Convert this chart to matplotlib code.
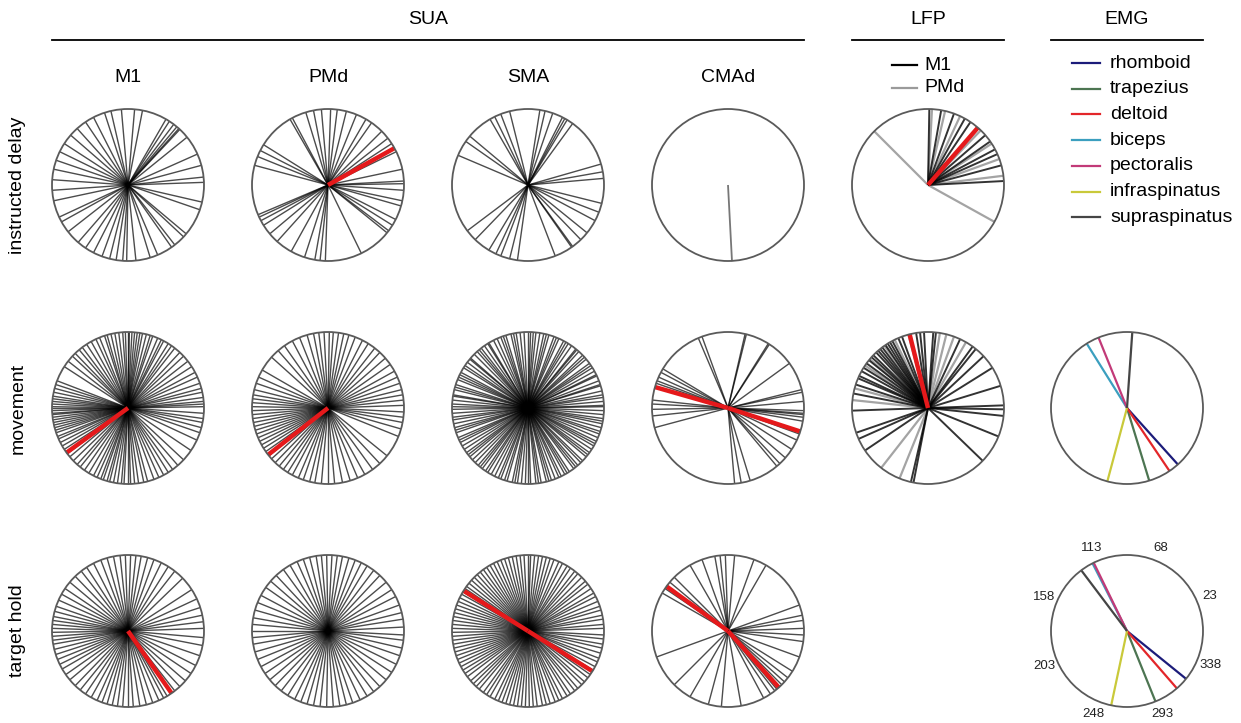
import numpy as np
import matplotlib.pyplot as plt
from matplotlib.lines import Line2D

plt.rcParams['font.family'] = ['Liberation Sans', 'DejaVu Sans']

# preferred directions (deg), one list per area / epoch
m1_delay = [117, 108, 103, 95, 85, 79, 60, 57, 53, 50, 48, 47, 39, 24, 15, 6, 2, -13, -19, -40,
            -43, -52, -55, -67, -73, -84, 269, 266, 261, 256, 250, 243, 236, 229, 218, 209, 205,
            192, 184, 176, 168, 161, 154, 147, 139, 132, 124]
pmd_delay = [120, 118, 107, 101, 95, 88, 83, 76, 68, 60, 55, 45, 38, 33, 26, 12, 3, 1, -4, -12,
             -16, -27, -32, -37, -39, -64, 268, 264, 260, 252, 241, 228, 220, 212, 208, 205, 203,
             165, 158, 153, 148]
sma_delay = [120, 116, 111, 104, 81, 77, 71, 63, 61, 59, 54, 140, 145, 157, 16, 10, 5, -14, -21,
             -28, -39, -46, -54, -55, -69, 262, 256, 249, 245, 239, 226, 217]
cmad_delay = [273]

m1_move = [62, 64, 67, 71, 73, 76, 79, 81, 83, 85, 87, 89, 90, 92, 94, 97, 100, 103, 106, 108,
           112, 115, 119, 123, 127, 130, 134, 137, 142, 147, 159, 162, 165, 168, 171, 173, 175,
           177, 179, 180, 182, 184, 185, 187, 189, 191, 193, 195, 197, 199, 202, 204, 207, 210,
           213, 217, 220, 224, 228, 231, 235, 239, 243, 246, 249, 251, 254, 256, 259, 262, 265,
           267, 270, 272, 275, 278, 282, 285, 290, 294, 298, 302, 306, 311, 317, 326, 335, 341,
           345, 349, 352, 356, 1, 3, 5, 8, 12, 15, 19, 24, 28, 33, 38, 43, 47, 52, 55, 58]
pmd_move = [58, 63, 69, 74, 78, 82, 86, 89, 93, 97, 101, 106, 112, 118, 125, 131, 138, 150, 156,
            161, 166, 170, 173, 176, 179, 182, 185, 188, 191, 194, 197, 200, 203, 206, 209, 212,
            215, 219, 222, 226, 230, 234, 238, 242, 247, 251, 256, 260, 265, 270, 275, 281, 287,
            293, 299, 306, 313, 321, 338, 344, 349, 353, 357, 2, 6, 10, 14, 19, 24, 29, 35, 41,
            47, 52]
sma_move = [1, 2, 5, 8, 10, 13, 17, 18, 21, 25, 26, 29, 32, 34, 36, 40, 42, 44, 48, 50, 51, 55,
            58, 60, 62, 66, 68, 70, 74, 76, 78, 81, 84, 86, 88, 90, 93, 96, 99, 101, 103, 107,
            109, 111, 114, 117, 121, 122, 125, 128, 130, 132, 135, 139, 140, 143, 146, 148, 152,
            154, 156, 158, 162, 164, 166, 170, 171, 174, 177, 179, 181, 184, 187, 189, 192, 195,
            197, 199, 203, 205, 207, 210, 213, 216, 218, 220, 223, 226, 229, 231, 233, 236, 238,
            241, 244, 247, 249, 252, 254, 258, 260, 262, 265, 268, 270, 272, 276, 278, 280, 284,
            286, 288, 291, 294, 296, 299, 301, 303, 307, 309, 311, 314, 316, 320, 322, 324, 327,
            330, 332, 334, 337, 340, 342, 345, 348, 350, 352, 355, 358]
cmad_move = [113, 110, 77, 76, 58, 57, 36, 14, 12, 5, 149, 152, 156, 159, 161, 174, 177, 181,
             186, 195, -2, -4, -5, -7, -10, -20, -25, -33, -41, -47, -50, -73, -80, -85]

m1_hold = [2, 7, 12, 18, 25, 33, 44, 52, 58, 64, 70, 75, 80, 84, 88, 92, 96, 101, 106, 111, 117,
           123, 128, 134, 140, 146, 151, 156, 161, 165, 169, 172, 175, 178, 181, 184, 187, 190,
           194, 198, 202, 206, 210, 215, 220, 226, 231, 236, 241, 246, 250, 254, 258, 262, 266,
           270, 274, 279, 284, 289, 294, 298, 301, 308, 313, 319, 326, 333, 341, 349, 355]
pmd_hold = [3, 9, 14, 20, 27, 33, 40, 47, 53, 59, 64, 69, 74, 79, 83, 87, 91, 95, 99, 104, 109,
            114, 120, 126, 133, 139, 145, 152, 158, 164, 170, 175, 180, 185, 190, 196, 202, 208,
            214, 220, 226, 232, 238, 244, 249, 254, 259, 264, 269, 274, 279, 284, 289, 295, 301,
            307, 313, 320, 327, 334, 341, 347, 353, 357]
sma_hold = [2, 5, 9, 12, 16, 19, 23, 27, 30, 34, 38, 41, 45, 49, 52, 56, 59, 63, 66, 70, 73, 76,
            79, 82, 85, 88, 90, 93, 96, 99, 102, 105, 108, 111, 114, 117, 120, 123, 126, 129,
            132, 135, 138, 141, 144, 146, 149, 151, 154, 157, 160, 163, 166, 169, 172, 175, 178,
            181, 184, 187, 190, 193, 196, 199, 202, 205, 208, 211, 214, 217, 221, 224, 227, 230,
            234, 237, 240, 244, 247, 250, 253, 256, 259, 262, 265, 268, 271, 274, 277, 281, 284,
            287, 291, 294, 297, 301, 304, 308, 311, 315, 318, 322, 325, 329, 332, 336, 339, 343,
            347, 350, 354, 357]
cmad_hold = [150, 146, 140, 135, 120, 110, 100, 96, 92, 85, 70, 60, 20, 12, 8, 2, -3, -8, -20,
             -32, -38, -42, -45, -50, -52, -56, -62, -80, 265, 255, 240, 225, 200]

# population means (red)
pmd_delay_mean = [29]
m1_move_mean = [216]
pmd_move_mean = [218]
cmad_move_mean = [164, 342]
m1_hold_mean = [305]
sma_hold_mean = [148, 328]
cmad_hold_mean = [144, 312]

# LFP
lfp_delay_m1 = [89, 80, 70, 61, 56, 41, 35, 28, 24, 15, 3]
lfp_delay_pmd = [135, 87, 77, 65, 46, 33, 20, 7, -29]
lfp_delay_mean = [49]
lfp_move_m1 = [257, 259, 204, 199, 214, -44, -22, -6, -1, 2, 17, 32, 43, 51, 54, 65, 93, 96, 99,
               110, 113, 118, 120, 122, 124, 127, 129, 131, 133, 136, 138, 141, 144, 148, 151,
               155, 157, 162, 169, 182, 86, 84]
lfp_move_pmd = [81, 70, 60, 248, 105, 116, 140, 165, 232, 76, 125, 146, 174]
lfp_move_mean = [104]

# EMG
emg_names = ['rhomboid', 'trapezius', 'deltoid', 'biceps', 'pectoralis', 'infraspinatus',
             'supraspinatus']
emg_colors = ['#1c1c7a', '#4d7552', '#e3262a', '#3b9fbf', '#c23a78', '#c9c93a', '#454545']
emg_move = [312, 287, 304, 122, 112, 255, 86]
emg_hold = [321, 292, 311, 117, 116, 258, 127]
emg_ticks = [23, 68, 113, 158, 203, 248, 293, 338]

col_titles = ['M1', 'PMd', 'SMA', 'CMAd']
row_titles = ['instructed delay', 'movement', 'target hold']

W, H = 1241, 723
fig = plt.figure(figsize=(W / 100, H / 100), dpi=100)

R = 76
col_x = [128, 328, 528, 728, 928, 1127]
row_y = [185, 408, 631]


def panel(col, row):
    cx, cy = col_x[col], row_y[row]
    pad = 1.35
    ax = fig.add_axes([(cx - R * pad) / W, 1 - (cy + R * pad) / H, 2 * R * pad / W, 2 * R * pad / H])
    ax.set_xlim(-pad, pad)
    ax.set_ylim(-pad, pad)
    ax.set_aspect('equal')
    ax.axis('off')
    ax.add_patch(plt.Circle((0, 0), 1, fill=False, ec='#5a5a5a', lw=1.3, zorder=5))
    return ax


def rays(ax, angles, color='k', lw=1.0, alpha=0.7):
    for t in np.deg2rad(angles):
        ax.plot([0, np.cos(t)], [0, np.sin(t)], color=color, lw=lw, alpha=alpha,
                solid_capstyle='butt')


def means(ax, angles):
    rays(ax, angles, color='#e5191b', lw=3.2, alpha=1.0)


sua = [
    [(m1_delay, []), (pmd_delay, pmd_delay_mean), (sma_delay, []), None],
    [(m1_move, m1_move_mean), (pmd_move, pmd_move_mean), (sma_move, []), (cmad_move, cmad_move_mean)],
    [(m1_hold, m1_hold_mean), (pmd_hold, []), (sma_hold, sma_hold_mean), (cmad_hold, cmad_hold_mean)],
]
for r, row in enumerate(sua):
    for c, item in enumerate(row):
        ax = panel(c, r)
        if item is None:
            rays(ax, cmad_delay, color='#777777', lw=1.3, alpha=1.0)
            continue
        rays(ax, item[0])
        means(ax, item[1])

# LFP
ax = panel(4, 0)
rays(ax, lfp_delay_pmd, color='#9a9a9a', lw=1.6, alpha=0.9)
rays(ax, lfp_delay_m1, color='k', lw=1.4, alpha=0.8)
means(ax, lfp_delay_mean)
ax = panel(4, 1)
rays(ax, lfp_move_pmd, color='#9a9a9a', lw=1.6, alpha=0.9)
rays(ax, lfp_move_m1, color='k', lw=1.4, alpha=0.8)
means(ax, lfp_move_mean)

# EMG
for r, data in [(1, emg_move), (2, emg_hold)]:
    ax = panel(5, r)
    for ang, colr in zip(data, emg_colors):
        rays(ax, [ang], color=colr, lw=1.6, alpha=1.0)
    if r == 2:
        for t in emg_ticks:
            a = np.deg2rad(t)
            ax.text(1.18 * np.cos(a), 1.18 * np.sin(a), str(t), ha='center', va='center',
                    fontsize=9.5, color='#222222')

# group headers
for label, x0, x1 in [('SUA', col_x[0] - R, col_x[3] + R), ('LFP', col_x[4] - R, col_x[4] + R),
                      ('EMG', col_x[5] - R, col_x[5] + R)]:
    fig.add_artist(Line2D([x0 / W, x1 / W], [1 - 40 / H] * 2, color='k', lw=1.3))
    fig.text((x0 + x1) / 2 / W, 1 - 20 / H, label, ha='center', va='center', fontsize=14)

for c, t in enumerate(col_titles):
    fig.text(col_x[c] / W, 1 - 77 / H, t, ha='center', va='center', fontsize=14)

for r, t in enumerate(row_titles):
    fig.text(18 / W, 1 - row_y[r] / H, t, ha='center', va='center', rotation=90, fontsize=14)

# LFP legend
for i, (lab, colr) in enumerate([('M1', 'k'), ('PMd', '#9a9a9a')]):
    y = 1 - (65 + 23 * i) / H
    fig.add_artist(Line2D([892 / W, 917 / W], [y, y], color=colr, lw=1.6))
    fig.text(924 / W, y, lab, ha='left', va='center', fontsize=14)

# EMG legend
for i, (lab, colr) in enumerate(zip(emg_names, emg_colors)):
    y = 1 - (63 + 25.7 * i) / H
    fig.add_artist(Line2D([1072 / W, 1100 / W], [y, y], color=colr, lw=1.6))
    fig.text(1110 / W, y, lab, ha='left', va='center', fontsize=14)

fig.savefig('out.png', dpi=100)
